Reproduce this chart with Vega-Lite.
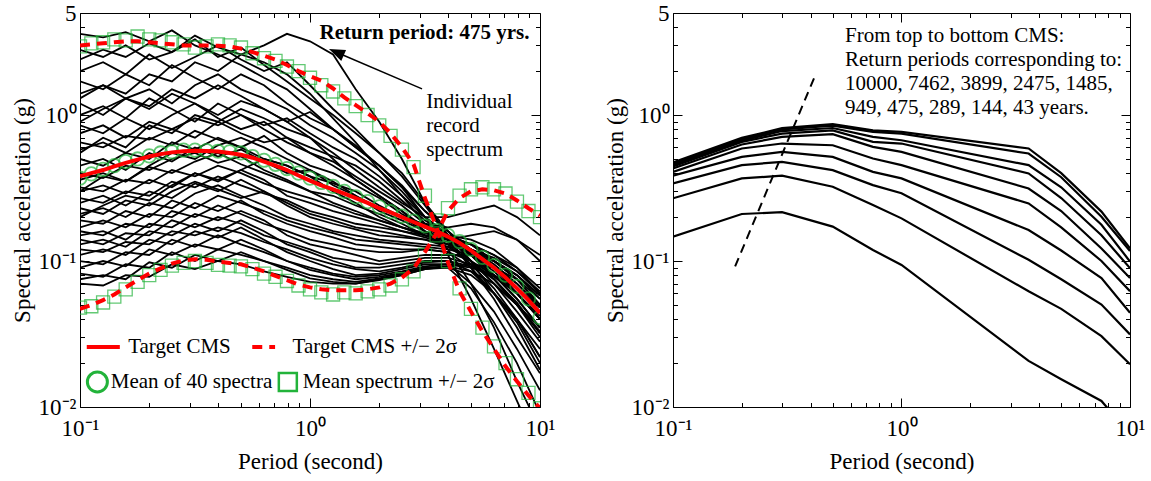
{
"$schema":"https://vega.github.io/schema/vega-lite/v6.json",
"background":"white",
"padding":{"left":10,"top":1,"right":0,"bottom":0},
"spacing":47,
"config":{"font":"Liberation Serif","view":{"stroke":"black","strokeWidth":1},
"axis":{"labelFont":"Liberation Serif","titleFont":"Liberation Serif","labelColor":"black","titleColor":"black","tickColor":"black","domain":false,"grid":false,"labelFontSize":23,"titleFontSize":23,"titleFontWeight":"normal","labelFlush":false,"labelOverlap":false,"tickWidth":1}},
"datasets":{
"cms":[
{"T":0.1,"cms":0.38,"up":3.0,"lo":0.047,"mean":0.37,"mup":2.95,"mlo":0.048},
{"T":0.112,"cms":0.40,"up":3.05,"lo":0.05,"mean":0.395,"mup":3.1,"mlo":0.049},
{"T":0.126,"cms":0.42,"up":3.1,"lo":0.054,"mean":0.425,"mup":3.15,"mlo":0.052},
{"T":0.141,"cms":0.445,"up":3.15,"lo":0.059,"mean":0.45,"mup":3.3,"mlo":0.057},
{"T":0.158,"cms":0.47,"up":3.2,"lo":0.066,"mean":0.48,"mup":3.25,"mlo":0.064},
{"T":0.178,"cms":0.495,"up":3.2,"lo":0.074,"mean":0.50,"mup":3.45,"mlo":0.072},
{"T":0.2,"cms":0.52,"up":3.15,"lo":0.082,"mean":0.525,"mup":3.3,"mlo":0.08},
{"T":0.224,"cms":0.54,"up":3.1,"lo":0.089,"mean":0.55,"mup":3.25,"mlo":0.087},
{"T":0.251,"cms":0.555,"up":3.05,"lo":0.096,"mean":0.56,"mup":3.15,"mlo":0.093},
{"T":0.282,"cms":0.565,"up":3.0,"lo":0.101,"mean":0.575,"mup":3.05,"mlo":0.097},
{"T":0.316,"cms":0.57,"up":3.0,"lo":0.103,"mean":0.575,"mup":2.9,"mlo":0.1},
{"T":0.355,"cms":0.568,"up":3.0,"lo":0.102,"mean":0.57,"mup":2.95,"mlo":0.097},
{"T":0.398,"cms":0.562,"up":2.98,"lo":0.099,"mean":0.565,"mup":3.05,"mlo":0.094},
{"T":0.447,"cms":0.55,"up":2.95,"lo":0.097,"mean":0.56,"mup":3.0,"mlo":0.093},
{"T":0.501,"cms":0.535,"up":2.85,"lo":0.095,"mean":0.55,"mup":2.9,"mlo":0.092},
{"T":0.562,"cms":0.51,"up":2.7,"lo":0.09,"mean":0.52,"mup":2.65,"mlo":0.088},
{"T":0.631,"cms":0.48,"up":2.55,"lo":0.085,"mean":0.49,"mup":2.45,"mlo":0.082},
{"T":0.708,"cms":0.45,"up":2.4,"lo":0.079,"mean":0.46,"mup":2.35,"mlo":0.078},
{"T":0.794,"cms":0.42,"up":2.2,"lo":0.074,"mean":0.43,"mup":2.15,"mlo":0.073},
{"T":0.891,"cms":0.385,"up":2.0,"lo":0.069,"mean":0.40,"mup":2.0,"mlo":0.068},
{"T":1,"cms":0.355,"up":1.85,"lo":0.066,"mean":0.37,"mup":1.8,"mlo":0.064},
{"T":1.12,"cms":0.33,"up":1.72,"lo":0.064,"mean":0.345,"mup":1.6,"mlo":0.061},
{"T":1.26,"cms":0.31,"up":1.52,"lo":0.063,"mean":0.325,"mup":1.45,"mlo":0.059},
{"T":1.41,"cms":0.29,"up":1.32,"lo":0.063,"mean":0.30,"mup":1.3,"mlo":0.061},
{"T":1.58,"cms":0.27,"up":1.17,"lo":0.063,"mean":0.275,"mup":1.15,"mlo":0.06},
{"T":1.78,"cms":0.25,"up":1.03,"lo":0.064,"mean":0.255,"mup":1.0,"mlo":0.062},
{"T":2,"cms":0.23,"up":0.9,"lo":0.066,"mean":0.235,"mup":0.85,"mlo":0.064},
{"T":2.24,"cms":0.215,"up":0.75,"lo":0.07,"mean":0.218,"mup":0.72,"mlo":0.068},
{"T":2.51,"cms":0.2,"up":0.6,"lo":0.077,"mean":0.203,"mup":0.58,"mlo":0.075},
{"T":2.82,"cms":0.185,"up":0.46,"lo":0.089,"mean":0.188,"mup":0.44,"mlo":0.085},
{"T":3.16,"cms":0.172,"up":0.27,"lo":0.115,"mean":0.174,"mup":0.28,"mlo":0.11},
{"T":3.55,"cms":0.16,"up":0.17,"lo":0.155,"mean":0.162,"mup":0.19,"mlo":0.15},
{"T":3.98,"cms":0.147,"up":0.098,"lo":0.22,"mean":0.15,"mup":0.1,"mlo":0.23},
{"T":4.47,"cms":0.133,"up":0.062,"lo":0.27,"mean":0.136,"mup":0.065,"mlo":0.28},
{"T":5.01,"cms":0.118,"up":0.045,"lo":0.3,"mean":0.12,"mup":0.047,"mlo":0.31},
{"T":5.62,"cms":0.103,"up":0.033,"lo":0.31,"mean":0.106,"mup":0.035,"mlo":0.32},
{"T":6.31,"cms":0.09,"up":0.025,"lo":0.305,"mean":0.093,"mup":0.026,"mlo":0.31},
{"T":7.08,"cms":0.077,"up":0.019,"lo":0.29,"mean":0.08,"mup":0.02,"mlo":0.29},
{"T":7.94,"cms":0.065,"up":0.015,"lo":0.26,"mean":0.067,"mup":0.0155,"mlo":0.255},
{"T":8.91,"cms":0.054,"up":0.012,"lo":0.23,"mean":0.055,"mup":0.0125,"mlo":0.22},
{"T":10,"cms":0.044,"up":0.0098,"lo":0.205,"mean":0.041,"mup":0.0098,"mlo":0.2}
],
"rec":[
{"r":1,"T":0.1,"v":3.6},{"r":1,"T":0.126,"v":3.4},{"r":1,"T":0.158,"v":3.7},{"r":1,"T":0.2,"v":3.2},{"r":1,"T":0.251,"v":3.8},{"r":1,"T":0.316,"v":3.0},{"r":1,"T":0.398,"v":2.6},{"r":1,"T":0.501,"v":2.2},{"r":1,"T":0.631,"v":1.8},{"r":1,"T":0.794,"v":1.5},{"r":1,"T":1,"v":1.1},{"r":1,"T":1.26,"v":0.8},{"r":1,"T":1.58,"v":0.6},{"r":1,"T":2,"v":0.45},{"r":1,"T":2.51,"v":0.32},{"r":1,"T":3.16,"v":0.2},{"r":1,"T":3.98,"v":0.14},{"r":1,"T":5.01,"v":0.09},{"r":1,"T":6.31,"v":0.055},{"r":1,"T":7.94,"v":0.03},{"r":1,"T":10,"v":0.017},
{"r":2,"T":0.1,"v":1.3},{"r":2,"T":0.126,"v":1.6},{"r":2,"T":0.158,"v":1.4},{"r":2,"T":0.2,"v":1.9},{"r":2,"T":0.251,"v":1.7},{"r":2,"T":0.316,"v":2.3},{"r":2,"T":0.398,"v":2.0},{"r":2,"T":0.501,"v":2.6},{"r":2,"T":0.631,"v":3.0},{"r":2,"T":0.794,"v":3.6},{"r":2,"T":1,"v":3.2},{"r":2,"T":1.26,"v":2.6},{"r":2,"T":1.58,"v":1.5},{"r":2,"T":2,"v":0.9},{"r":2,"T":2.51,"v":0.5},{"r":2,"T":3.16,"v":0.25},{"r":2,"T":3.98,"v":0.15},{"r":2,"T":5.01,"v":0.1},{"r":2,"T":6.31,"v":0.07},{"r":2,"T":7.94,"v":0.05},{"r":2,"T":10,"v":0.035},
{"r":3,"T":0.1,"v":2.8},{"r":3,"T":0.126,"v":2.5},{"r":3,"T":0.158,"v":3.0},{"r":3,"T":0.2,"v":2.4},{"r":3,"T":0.251,"v":2.7},{"r":3,"T":0.316,"v":3.3},{"r":3,"T":0.398,"v":2.5},{"r":3,"T":0.501,"v":2.9},{"r":3,"T":0.631,"v":2.2},{"r":3,"T":0.794,"v":1.7},{"r":3,"T":1,"v":1.3},{"r":3,"T":1.26,"v":1.0},{"r":3,"T":1.58,"v":0.75},{"r":3,"T":2,"v":0.55},{"r":3,"T":2.51,"v":0.38},{"r":3,"T":3.16,"v":0.24},{"r":3,"T":3.98,"v":0.15},{"r":3,"T":5.01,"v":0.1},{"r":3,"T":6.31,"v":0.06},{"r":3,"T":7.94,"v":0.04},{"r":3,"T":10,"v":0.025},
{"r":4,"T":0.1,"v":2.0},{"r":4,"T":0.126,"v":2.3},{"r":4,"T":0.158,"v":1.9},{"r":4,"T":0.2,"v":2.6},{"r":4,"T":0.251,"v":2.1},{"r":4,"T":0.316,"v":2.5},{"r":4,"T":0.398,"v":3.0},{"r":4,"T":0.501,"v":2.4},{"r":4,"T":0.631,"v":2.0},{"r":4,"T":0.794,"v":2.3},{"r":4,"T":1,"v":1.6},{"r":4,"T":1.26,"v":1.1},{"r":4,"T":1.58,"v":0.8},{"r":4,"T":2,"v":0.55},{"r":4,"T":2.51,"v":0.4},{"r":4,"T":3.16,"v":0.25},{"r":4,"T":3.98,"v":0.16},{"r":4,"T":5.01,"v":0.11},{"r":4,"T":6.31,"v":0.075},{"r":4,"T":7.94,"v":0.05},{"r":4,"T":10,"v":0.032},
{"r":5,"T":0.1,"v":1.7},{"r":5,"T":0.126,"v":1.5},{"r":5,"T":0.158,"v":1.9},{"r":5,"T":0.2,"v":1.6},{"r":5,"T":0.251,"v":2.2},{"r":5,"T":0.316,"v":1.8},{"r":5,"T":0.398,"v":1.5},{"r":5,"T":0.501,"v":1.9},{"r":5,"T":0.631,"v":1.6},{"r":5,"T":0.794,"v":1.2},{"r":5,"T":1,"v":0.95},{"r":5,"T":1.26,"v":0.8},{"r":5,"T":1.58,"v":0.6},{"r":5,"T":2,"v":0.45},{"r":5,"T":2.51,"v":0.32},{"r":5,"T":3.16,"v":0.22},{"r":5,"T":3.98,"v":0.16},{"r":5,"T":5.01,"v":0.12},{"r":5,"T":6.31,"v":0.09},{"r":5,"T":7.94,"v":0.065},{"r":5,"T":10,"v":0.045},
{"r":6,"T":0.1,"v":1.4},{"r":6,"T":0.126,"v":1.6},{"r":6,"T":0.158,"v":1.3},{"r":6,"T":0.2,"v":1.5},{"r":6,"T":0.251,"v":1.2},{"r":6,"T":0.316,"v":1.6},{"r":6,"T":0.398,"v":1.9},{"r":6,"T":0.501,"v":1.5},{"r":6,"T":0.631,"v":1.3},{"r":6,"T":0.794,"v":1.1},{"r":6,"T":1,"v":0.85},{"r":6,"T":1.26,"v":0.7},{"r":6,"T":1.58,"v":0.55},{"r":6,"T":2,"v":0.42},{"r":6,"T":2.51,"v":0.3},{"r":6,"T":3.16,"v":0.2},{"r":6,"T":3.98,"v":0.15},{"r":6,"T":5.01,"v":0.13},{"r":6,"T":6.31,"v":0.1},{"r":6,"T":7.94,"v":0.075},{"r":6,"T":10,"v":0.05},
{"r":7,"T":0.1,"v":1.2},{"r":7,"T":0.126,"v":1.0},{"r":7,"T":0.158,"v":1.3},{"r":7,"T":0.2,"v":1.1},{"r":7,"T":0.251,"v":1.4},{"r":7,"T":0.316,"v":1.2},{"r":7,"T":0.398,"v":1.0},{"r":7,"T":0.501,"v":1.25},{"r":7,"T":0.631,"v":1.1},{"r":7,"T":0.794,"v":0.9},{"r":7,"T":1,"v":1.05},{"r":7,"T":1.26,"v":0.8},{"r":7,"T":1.58,"v":0.62},{"r":7,"T":2,"v":0.45},{"r":7,"T":2.51,"v":0.33},{"r":7,"T":3.16,"v":0.22},{"r":7,"T":3.98,"v":0.16},{"r":7,"T":5.01,"v":0.11},{"r":7,"T":6.31,"v":0.08},{"r":7,"T":7.94,"v":0.055},{"r":7,"T":10,"v":0.035},
{"r":8,"T":0.1,"v":1.0},{"r":8,"T":0.126,"v":1.15},{"r":8,"T":0.158,"v":0.95},{"r":8,"T":0.2,"v":1.3},{"r":8,"T":0.251,"v":1.1},{"r":8,"T":0.316,"v":0.9},{"r":8,"T":0.398,"v":1.2},{"r":8,"T":0.501,"v":1.0},{"r":8,"T":0.631,"v":0.85},{"r":8,"T":0.794,"v":0.95},{"r":8,"T":1,"v":0.75},{"r":8,"T":1.26,"v":0.6},{"r":8,"T":1.58,"v":0.5},{"r":8,"T":2,"v":0.38},{"r":8,"T":2.51,"v":0.28},{"r":8,"T":3.16,"v":0.2},{"r":8,"T":3.98,"v":0.15},{"r":8,"T":5.01,"v":0.12},{"r":8,"T":6.31,"v":0.09},{"r":8,"T":7.94,"v":0.06},{"r":8,"T":10,"v":0.04},
{"r":9,"T":0.1,"v":0.85},{"r":9,"T":0.126,"v":0.75},{"r":9,"T":0.158,"v":0.95},{"r":9,"T":0.2,"v":0.8},{"r":9,"T":0.251,"v":1.0},{"r":9,"T":0.316,"v":1.2},{"r":9,"T":0.398,"v":0.95},{"r":9,"T":0.501,"v":0.8},{"r":9,"T":0.631,"v":0.9},{"r":9,"T":0.794,"v":0.7},{"r":9,"T":1,"v":0.6},{"r":9,"T":1.26,"v":0.52},{"r":9,"T":1.58,"v":0.45},{"r":9,"T":2,"v":0.35},{"r":9,"T":2.51,"v":0.26},{"r":9,"T":3.16,"v":0.19},{"r":9,"T":3.98,"v":0.15},{"r":9,"T":5.01,"v":0.14},{"r":9,"T":6.31,"v":0.12},{"r":9,"T":7.94,"v":0.09},{"r":9,"T":10,"v":0.06},
{"r":10,"T":0.1,"v":0.75},{"r":10,"T":0.126,"v":0.85},{"r":10,"T":0.158,"v":0.7},{"r":10,"T":0.2,"v":0.9},{"r":10,"T":0.251,"v":0.8},{"r":10,"T":0.316,"v":0.95},{"r":10,"T":0.398,"v":0.85},{"r":10,"T":0.501,"v":1.0},{"r":10,"T":0.631,"v":0.8},{"r":10,"T":0.794,"v":0.65},{"r":10,"T":1,"v":0.55},{"r":10,"T":1.26,"v":0.48},{"r":10,"T":1.58,"v":0.38},{"r":10,"T":2,"v":0.3},{"r":10,"T":2.51,"v":0.24},{"r":10,"T":3.16,"v":0.18},{"r":10,"T":3.98,"v":0.15},{"r":10,"T":5.01,"v":0.13},{"r":10,"T":6.31,"v":0.1},{"r":10,"T":7.94,"v":0.08},{"r":10,"T":10,"v":0.055},
{"r":11,"T":0.1,"v":0.65},{"r":11,"T":0.126,"v":0.6},{"r":11,"T":0.158,"v":0.72},{"r":11,"T":0.2,"v":0.68},{"r":11,"T":0.251,"v":0.8},{"r":11,"T":0.316,"v":0.7},{"r":11,"T":0.398,"v":0.9},{"r":11,"T":0.501,"v":0.75},{"r":11,"T":0.631,"v":0.65},{"r":11,"T":0.794,"v":0.7},{"r":11,"T":1,"v":0.55},{"r":11,"T":1.26,"v":0.45},{"r":11,"T":1.58,"v":0.36},{"r":11,"T":2,"v":0.28},{"r":11,"T":2.51,"v":0.22},{"r":11,"T":3.16,"v":0.17},{"r":11,"T":3.98,"v":0.14},{"r":11,"T":5.01,"v":0.11},{"r":11,"T":6.31,"v":0.085},{"r":11,"T":7.94,"v":0.06},{"r":11,"T":10,"v":0.04},
{"r":12,"T":0.1,"v":0.58},{"r":12,"T":0.126,"v":0.65},{"r":12,"T":0.158,"v":0.55},{"r":12,"T":0.2,"v":0.7},{"r":12,"T":0.251,"v":0.62},{"r":12,"T":0.316,"v":0.78},{"r":12,"T":0.398,"v":0.68},{"r":12,"T":0.501,"v":0.6},{"r":12,"T":0.631,"v":0.72},{"r":12,"T":0.794,"v":0.55},{"r":12,"T":1,"v":0.45},{"r":12,"T":1.26,"v":0.4},{"r":12,"T":1.58,"v":0.33},{"r":12,"T":2,"v":0.27},{"r":12,"T":2.51,"v":0.21},{"r":12,"T":3.16,"v":0.17},{"r":12,"T":3.98,"v":0.145},{"r":12,"T":5.01,"v":0.13},{"r":12,"T":6.31,"v":0.11},{"r":12,"T":7.94,"v":0.09},{"r":12,"T":10,"v":0.065},
{"r":13,"T":0.1,"v":0.5},{"r":13,"T":0.126,"v":0.45},{"r":13,"T":0.158,"v":0.55},{"r":13,"T":0.2,"v":0.5},{"r":13,"T":0.251,"v":0.65},{"r":13,"T":0.316,"v":0.58},{"r":13,"T":0.398,"v":0.7},{"r":13,"T":0.501,"v":0.6},{"r":13,"T":0.631,"v":0.5},{"r":13,"T":0.794,"v":0.45},{"r":13,"T":1,"v":0.38},{"r":13,"T":1.26,"v":0.34},{"r":13,"T":1.58,"v":0.3},{"r":13,"T":2,"v":0.24},{"r":13,"T":2.51,"v":0.2},{"r":13,"T":3.16,"v":0.16},{"r":13,"T":3.98,"v":0.14},{"r":13,"T":5.01,"v":0.12},{"r":13,"T":6.31,"v":0.095},{"r":13,"T":7.94,"v":0.07},{"r":13,"T":10,"v":0.05},
{"r":14,"T":0.1,"v":0.45},{"r":14,"T":0.126,"v":0.5},{"r":14,"T":0.158,"v":0.42},{"r":14,"T":0.2,"v":0.55},{"r":14,"T":0.251,"v":0.48},{"r":14,"T":0.316,"v":0.6},{"r":14,"T":0.398,"v":0.52},{"r":14,"T":0.501,"v":0.58},{"r":14,"T":0.631,"v":0.48},{"r":14,"T":0.794,"v":0.4},{"r":14,"T":1,"v":0.42},{"r":14,"T":1.26,"v":0.33},{"r":14,"T":1.58,"v":0.28},{"r":14,"T":2,"v":0.22},{"r":14,"T":2.51,"v":0.19},{"r":14,"T":3.16,"v":0.16},{"r":14,"T":3.98,"v":0.14},{"r":14,"T":5.01,"v":0.11},{"r":14,"T":6.31,"v":0.08},{"r":14,"T":7.94,"v":0.055},{"r":14,"T":10,"v":0.035},
{"r":15,"T":0.1,"v":0.4},{"r":15,"T":0.126,"v":0.37},{"r":15,"T":0.158,"v":0.45},{"r":15,"T":0.2,"v":0.42},{"r":15,"T":0.251,"v":0.5},{"r":15,"T":0.316,"v":0.55},{"r":15,"T":0.398,"v":0.47},{"r":15,"T":0.501,"v":0.52},{"r":15,"T":0.631,"v":0.42},{"r":15,"T":0.794,"v":0.36},{"r":15,"T":1,"v":0.3},{"r":15,"T":1.26,"v":0.28},{"r":15,"T":1.58,"v":0.24},{"r":15,"T":2,"v":0.21},{"r":15,"T":2.51,"v":0.18},{"r":15,"T":3.16,"v":0.15},{"r":15,"T":3.98,"v":0.14},{"r":15,"T":5.01,"v":0.12},{"r":15,"T":6.31,"v":0.1},{"r":15,"T":7.94,"v":0.075},{"r":15,"T":10,"v":0.05},
{"r":16,"T":0.1,"v":0.36},{"r":16,"T":0.126,"v":0.4},{"r":16,"T":0.158,"v":0.35},{"r":16,"T":0.2,"v":0.44},{"r":16,"T":0.251,"v":0.4},{"r":16,"T":0.316,"v":0.48},{"r":16,"T":0.398,"v":0.55},{"r":16,"T":0.501,"v":0.46},{"r":16,"T":0.631,"v":0.4},{"r":16,"T":0.794,"v":0.35},{"r":16,"T":1,"v":0.3},{"r":16,"T":1.26,"v":0.25},{"r":16,"T":1.58,"v":0.22},{"r":16,"T":2,"v":0.19},{"r":16,"T":2.51,"v":0.17},{"r":16,"T":3.16,"v":0.15},{"r":16,"T":3.98,"v":0.135},{"r":16,"T":5.01,"v":0.1},{"r":16,"T":6.31,"v":0.07},{"r":16,"T":7.94,"v":0.045},{"r":16,"T":10,"v":0.028},
{"r":17,"T":0.1,"v":0.32},{"r":17,"T":0.126,"v":0.3},{"r":17,"T":0.158,"v":0.36},{"r":17,"T":0.2,"v":0.34},{"r":17,"T":0.251,"v":0.42},{"r":17,"T":0.316,"v":0.38},{"r":17,"T":0.398,"v":0.45},{"r":17,"T":0.501,"v":0.4},{"r":17,"T":0.631,"v":0.34},{"r":17,"T":0.794,"v":0.3},{"r":17,"T":1,"v":0.27},{"r":17,"T":1.26,"v":0.24},{"r":17,"T":1.58,"v":0.21},{"r":17,"T":2,"v":0.19},{"r":17,"T":2.51,"v":0.17},{"r":17,"T":3.16,"v":0.155},{"r":17,"T":3.98,"v":0.14},{"r":17,"T":5.01,"v":0.13},{"r":17,"T":6.31,"v":0.11},{"r":17,"T":7.94,"v":0.085},{"r":17,"T":10,"v":0.06},
{"r":18,"T":0.1,"v":0.3},{"r":18,"T":0.126,"v":0.33},{"r":18,"T":0.158,"v":0.29},{"r":18,"T":0.2,"v":0.36},{"r":18,"T":0.251,"v":0.32},{"r":18,"T":0.316,"v":0.4},{"r":18,"T":0.398,"v":0.35},{"r":18,"T":0.501,"v":0.42},{"r":18,"T":0.631,"v":0.36},{"r":18,"T":0.794,"v":0.28},{"r":18,"T":1,"v":0.25},{"r":18,"T":1.26,"v":0.22},{"r":18,"T":1.58,"v":0.2},{"r":18,"T":2,"v":0.18},{"r":18,"T":2.51,"v":0.16},{"r":18,"T":3.16,"v":0.15},{"r":18,"T":3.98,"v":0.13},{"r":18,"T":5.01,"v":0.095},{"r":18,"T":6.31,"v":0.065},{"r":18,"T":7.94,"v":0.04},{"r":18,"T":10,"v":0.022},
{"r":19,"T":0.1,"v":0.27},{"r":19,"T":0.126,"v":0.25},{"r":19,"T":0.158,"v":0.3},{"r":19,"T":0.2,"v":0.28},{"r":19,"T":0.251,"v":0.35},{"r":19,"T":0.316,"v":0.32},{"r":19,"T":0.398,"v":0.38},{"r":19,"T":0.501,"v":0.33},{"r":19,"T":0.631,"v":0.29},{"r":19,"T":0.794,"v":0.26},{"r":19,"T":1,"v":0.22},{"r":19,"T":1.26,"v":0.2},{"r":19,"T":1.58,"v":0.18},{"r":19,"T":2,"v":0.17},{"r":19,"T":2.51,"v":0.16},{"r":19,"T":3.16,"v":0.145},{"r":19,"T":3.98,"v":0.13},{"r":19,"T":5.01,"v":0.12},{"r":19,"T":6.31,"v":0.1},{"r":19,"T":7.94,"v":0.08},{"r":19,"T":10,"v":0.058},
{"r":20,"T":0.1,"v":0.25},{"r":20,"T":0.126,"v":0.28},{"r":20,"T":0.158,"v":0.24},{"r":20,"T":0.2,"v":0.3},{"r":20,"T":0.251,"v":0.27},{"r":20,"T":0.316,"v":0.34},{"r":20,"T":0.398,"v":0.3},{"r":20,"T":0.501,"v":0.36},{"r":20,"T":0.631,"v":0.3},{"r":20,"T":0.794,"v":0.25},{"r":20,"T":1,"v":0.21},{"r":20,"T":1.26,"v":0.19},{"r":20,"T":1.58,"v":0.17},{"r":20,"T":2,"v":0.16},{"r":20,"T":2.51,"v":0.15},{"r":20,"T":3.16,"v":0.14},{"r":20,"T":3.98,"v":0.13},{"r":20,"T":5.01,"v":0.115},{"r":20,"T":6.31,"v":0.09},{"r":20,"T":7.94,"v":0.065},{"r":20,"T":10,"v":0.045},
{"r":21,"T":0.1,"v":0.23},{"r":21,"T":0.126,"v":0.21},{"r":21,"T":0.158,"v":0.26},{"r":21,"T":0.2,"v":0.24},{"r":21,"T":0.251,"v":0.3},{"r":21,"T":0.316,"v":0.35},{"r":21,"T":0.398,"v":0.31},{"r":21,"T":0.501,"v":0.27},{"r":21,"T":0.631,"v":0.3},{"r":21,"T":0.794,"v":0.24},{"r":21,"T":1,"v":0.2},{"r":21,"T":1.26,"v":0.18},{"r":21,"T":1.58,"v":0.165},{"r":21,"T":2,"v":0.15},{"r":21,"T":2.51,"v":0.145},{"r":21,"T":3.16,"v":0.14},{"r":21,"T":3.98,"v":0.125},{"r":21,"T":5.01,"v":0.1},{"r":21,"T":6.31,"v":0.075},{"r":21,"T":7.94,"v":0.05},{"r":21,"T":10,"v":0.03},
{"r":22,"T":0.1,"v":0.21},{"r":22,"T":0.126,"v":0.23},{"r":22,"T":0.158,"v":0.2},{"r":22,"T":0.2,"v":0.25},{"r":22,"T":0.251,"v":0.23},{"r":22,"T":0.316,"v":0.29},{"r":22,"T":0.398,"v":0.33},{"r":22,"T":0.501,"v":0.28},{"r":22,"T":0.631,"v":0.24},{"r":22,"T":0.794,"v":0.2},{"r":22,"T":1,"v":0.18},{"r":22,"T":1.26,"v":0.16},{"r":22,"T":1.58,"v":0.15},{"r":22,"T":2,"v":0.14},{"r":22,"T":2.51,"v":0.135},{"r":22,"T":3.16,"v":0.13},{"r":22,"T":3.98,"v":0.125},{"r":22,"T":5.01,"v":0.12},{"r":22,"T":6.31,"v":0.105},{"r":22,"T":7.94,"v":0.085},{"r":22,"T":10,"v":0.062},
{"r":23,"T":0.1,"v":0.19},{"r":23,"T":0.126,"v":0.18},{"r":23,"T":0.158,"v":0.22},{"r":23,"T":0.2,"v":0.2},{"r":23,"T":0.251,"v":0.26},{"r":23,"T":0.316,"v":0.23},{"r":23,"T":0.398,"v":0.28},{"r":23,"T":0.501,"v":0.25},{"r":23,"T":0.631,"v":0.22},{"r":23,"T":0.794,"v":0.19},{"r":23,"T":1,"v":0.17},{"r":23,"T":1.26,"v":0.155},{"r":23,"T":1.58,"v":0.14},{"r":23,"T":2,"v":0.135},{"r":23,"T":2.51,"v":0.13},{"r":23,"T":3.16,"v":0.125},{"r":23,"T":3.98,"v":0.12},{"r":23,"T":5.01,"v":0.11},{"r":23,"T":6.31,"v":0.09},{"r":23,"T":7.94,"v":0.07},{"r":23,"T":10,"v":0.048},
{"r":24,"T":0.1,"v":0.17},{"r":24,"T":0.126,"v":0.19},{"r":24,"T":0.158,"v":0.17},{"r":24,"T":0.2,"v":0.21},{"r":24,"T":0.251,"v":0.2},{"r":24,"T":0.316,"v":0.25},{"r":24,"T":0.398,"v":0.22},{"r":24,"T":0.501,"v":0.26},{"r":24,"T":0.631,"v":0.21},{"r":24,"T":0.794,"v":0.18},{"r":24,"T":1,"v":0.16},{"r":24,"T":1.26,"v":0.145},{"r":24,"T":1.58,"v":0.13},{"r":24,"T":2,"v":0.125},{"r":24,"T":2.51,"v":0.12},{"r":24,"T":3.16,"v":0.12},{"r":24,"T":3.98,"v":0.115},{"r":24,"T":5.01,"v":0.09},{"r":24,"T":6.31,"v":0.06},{"r":24,"T":7.94,"v":0.035},{"r":24,"T":10,"v":0.018},
{"r":25,"T":0.1,"v":0.16},{"r":25,"T":0.126,"v":0.15},{"r":25,"T":0.158,"v":0.18},{"r":25,"T":0.2,"v":0.17},{"r":25,"T":0.251,"v":0.22},{"r":25,"T":0.316,"v":0.2},{"r":25,"T":0.398,"v":0.24},{"r":25,"T":0.501,"v":0.21},{"r":25,"T":0.631,"v":0.18},{"r":25,"T":0.794,"v":0.16},{"r":25,"T":1,"v":0.14},{"r":25,"T":1.26,"v":0.13},{"r":25,"T":1.58,"v":0.12},{"r":25,"T":2,"v":0.115},{"r":25,"T":2.51,"v":0.115},{"r":25,"T":3.16,"v":0.12},{"r":25,"T":3.98,"v":0.115},{"r":25,"T":5.01,"v":0.1},{"r":25,"T":6.31,"v":0.08},{"r":25,"T":7.94,"v":0.06},{"r":25,"T":10,"v":0.04},
{"r":26,"T":0.1,"v":0.15},{"r":26,"T":0.126,"v":0.16},{"r":26,"T":0.158,"v":0.14},{"r":26,"T":0.2,"v":0.18},{"r":26,"T":0.251,"v":0.17},{"r":26,"T":0.316,"v":0.21},{"r":26,"T":0.398,"v":0.19},{"r":26,"T":0.501,"v":0.22},{"r":26,"T":0.631,"v":0.19},{"r":26,"T":0.794,"v":0.15},{"r":26,"T":1,"v":0.13},{"r":26,"T":1.26,"v":0.12},{"r":26,"T":1.58,"v":0.11},{"r":26,"T":2,"v":0.1},{"r":26,"T":2.51,"v":0.105},{"r":26,"T":3.16,"v":0.11},{"r":26,"T":3.98,"v":0.11},{"r":26,"T":5.01,"v":0.11},{"r":26,"T":6.31,"v":0.1},{"r":26,"T":7.94,"v":0.08},{"r":26,"T":10,"v":0.058},
{"r":27,"T":0.1,"v":0.14},{"r":27,"T":0.126,"v":0.13},{"r":27,"T":0.158,"v":0.155},{"r":27,"T":0.2,"v":0.15},{"r":27,"T":0.251,"v":0.19},{"r":27,"T":0.316,"v":0.17},{"r":27,"T":0.398,"v":0.2},{"r":27,"T":0.501,"v":0.18},{"r":27,"T":0.631,"v":0.15},{"r":27,"T":0.794,"v":0.135},{"r":27,"T":1,"v":0.12},{"r":27,"T":1.26,"v":0.105},{"r":27,"T":1.58,"v":0.1},{"r":27,"T":2,"v":0.095},{"r":27,"T":2.51,"v":0.1},{"r":27,"T":3.16,"v":0.105},{"r":27,"T":3.98,"v":0.105},{"r":27,"T":5.01,"v":0.095},{"r":27,"T":6.31,"v":0.075},{"r":27,"T":7.94,"v":0.052},{"r":27,"T":10,"v":0.032},
{"r":28,"T":0.1,"v":0.13},{"r":28,"T":0.126,"v":0.14},{"r":28,"T":0.158,"v":0.125},{"r":28,"T":0.2,"v":0.16},{"r":28,"T":0.251,"v":0.15},{"r":28,"T":0.316,"v":0.18},{"r":28,"T":0.398,"v":0.16},{"r":28,"T":0.501,"v":0.19},{"r":28,"T":0.631,"v":0.16},{"r":28,"T":0.794,"v":0.13},{"r":28,"T":1,"v":0.115},{"r":28,"T":1.26,"v":0.1},{"r":28,"T":1.58,"v":0.09},{"r":28,"T":2,"v":0.09},{"r":28,"T":2.51,"v":0.095},{"r":28,"T":3.16,"v":0.1},{"r":28,"T":3.98,"v":0.1},{"r":28,"T":5.01,"v":0.085},{"r":28,"T":6.31,"v":0.06},{"r":28,"T":7.94,"v":0.038},{"r":28,"T":10,"v":0.02},
{"r":29,"T":0.1,"v":0.12},{"r":29,"T":0.126,"v":0.115},{"r":29,"T":0.158,"v":0.135},{"r":29,"T":0.2,"v":0.13},{"r":29,"T":0.251,"v":0.16},{"r":29,"T":0.316,"v":0.15},{"r":29,"T":0.398,"v":0.17},{"r":29,"T":0.501,"v":0.155},{"r":29,"T":0.631,"v":0.135},{"r":29,"T":0.794,"v":0.12},{"r":29,"T":1,"v":0.105},{"r":29,"T":1.26,"v":0.095},{"r":29,"T":1.58,"v":0.088},{"r":29,"T":2,"v":0.085},{"r":29,"T":2.51,"v":0.09},{"r":29,"T":3.16,"v":0.098},{"r":29,"T":3.98,"v":0.1},{"r":29,"T":5.01,"v":0.092},{"r":29,"T":6.31,"v":0.078},{"r":29,"T":7.94,"v":0.06},{"r":29,"T":10,"v":0.042},
{"r":30,"T":0.1,"v":0.11},{"r":30,"T":0.126,"v":0.12},{"r":30,"T":0.158,"v":0.11},{"r":30,"T":0.2,"v":0.14},{"r":30,"T":0.251,"v":0.13},{"r":30,"T":0.316,"v":0.16},{"r":30,"T":0.398,"v":0.145},{"r":30,"T":0.501,"v":0.17},{"r":30,"T":0.631,"v":0.14},{"r":30,"T":0.794,"v":0.115},{"r":30,"T":1,"v":0.1},{"r":30,"T":1.26,"v":0.088},{"r":30,"T":1.58,"v":0.08},{"r":30,"T":2,"v":0.082},{"r":30,"T":2.51,"v":0.088},{"r":30,"T":3.16,"v":0.095},{"r":30,"T":3.98,"v":0.095},{"r":30,"T":5.01,"v":0.07},{"r":30,"T":6.31,"v":0.045},{"r":30,"T":7.94,"v":0.025},{"r":30,"T":10,"v":0.013},
{"r":31,"T":0.1,"v":0.1},{"r":31,"T":0.126,"v":0.095},{"r":31,"T":0.158,"v":0.115},{"r":31,"T":0.2,"v":0.11},{"r":31,"T":0.251,"v":0.14},{"r":31,"T":0.316,"v":0.125},{"r":31,"T":0.398,"v":0.15},{"r":31,"T":0.501,"v":0.13},{"r":31,"T":0.631,"v":0.115},{"r":31,"T":0.794,"v":0.1},{"r":31,"T":1,"v":0.09},{"r":31,"T":1.26,"v":0.082},{"r":31,"T":1.58,"v":0.078},{"r":31,"T":2,"v":0.08},{"r":31,"T":2.51,"v":0.085},{"r":31,"T":3.16,"v":0.092},{"r":31,"T":3.98,"v":0.095},{"r":31,"T":5.01,"v":0.09},{"r":31,"T":6.31,"v":0.08},{"r":31,"T":7.94,"v":0.065},{"r":31,"T":10,"v":0.048},
{"r":32,"T":0.1,"v":0.09},{"r":32,"T":0.126,"v":0.1},{"r":32,"T":0.158,"v":0.092},{"r":32,"T":0.2,"v":0.12},{"r":32,"T":0.251,"v":0.11},{"r":32,"T":0.316,"v":0.13},{"r":32,"T":0.398,"v":0.12},{"r":32,"T":0.501,"v":0.14},{"r":32,"T":0.631,"v":0.12},{"r":32,"T":0.794,"v":0.1},{"r":32,"T":1,"v":0.087},{"r":32,"T":1.26,"v":0.08},{"r":32,"T":1.58,"v":0.075},{"r":32,"T":2,"v":0.078},{"r":32,"T":2.51,"v":0.083},{"r":32,"T":3.16,"v":0.09},{"r":32,"T":3.98,"v":0.092},{"r":32,"T":5.01,"v":0.085},{"r":32,"T":6.31,"v":0.07},{"r":32,"T":7.94,"v":0.05},{"r":32,"T":10,"v":0.033},
{"r":33,"T":0.1,"v":0.082},{"r":33,"T":0.126,"v":0.078},{"r":33,"T":0.158,"v":0.095},{"r":33,"T":0.2,"v":0.09},{"r":33,"T":0.251,"v":0.115},{"r":33,"T":0.316,"v":0.1},{"r":33,"T":0.398,"v":0.12},{"r":33,"T":0.501,"v":0.11},{"r":33,"T":0.631,"v":0.1},{"r":33,"T":0.794,"v":0.09},{"r":33,"T":1,"v":0.08},{"r":33,"T":1.26,"v":0.075},{"r":33,"T":1.58,"v":0.072},{"r":33,"T":2,"v":0.076},{"r":33,"T":2.51,"v":0.082},{"r":33,"T":3.16,"v":0.09},{"r":33,"T":3.98,"v":0.09},{"r":33,"T":5.01,"v":0.065},{"r":33,"T":6.31,"v":0.038},{"r":33,"T":7.94,"v":0.02},{"r":33,"T":10,"v":0.009},
{"r":34,"T":0.1,"v":0.075},{"r":34,"T":0.126,"v":0.08},{"r":34,"T":0.158,"v":0.075},{"r":34,"T":0.2,"v":0.098},{"r":34,"T":0.251,"v":0.09},{"r":34,"T":0.316,"v":0.11},{"r":34,"T":0.398,"v":0.1},{"r":34,"T":0.501,"v":0.115},{"r":34,"T":0.631,"v":0.1},{"r":34,"T":0.794,"v":0.087},{"r":34,"T":1,"v":0.076},{"r":34,"T":1.26,"v":0.072},{"r":34,"T":1.58,"v":0.07},{"r":34,"T":2,"v":0.075},{"r":34,"T":2.51,"v":0.08},{"r":34,"T":3.16,"v":0.088},{"r":34,"T":3.98,"v":0.092},{"r":34,"T":5.01,"v":0.095},{"r":34,"T":6.31,"v":0.09},{"r":34,"T":7.94,"v":0.075},{"r":34,"T":10,"v":0.055},
{"r":35,"T":0.1,"v":0.07},{"r":35,"T":0.126,"v":0.068},{"r":35,"T":0.158,"v":0.08},{"r":35,"T":0.2,"v":0.078},{"r":35,"T":0.251,"v":0.095},{"r":35,"T":0.316,"v":0.088},{"r":35,"T":0.398,"v":0.1},{"r":35,"T":0.501,"v":0.095},{"r":35,"T":0.631,"v":0.085},{"r":35,"T":0.794,"v":0.078},{"r":35,"T":1,"v":0.072},{"r":35,"T":1.26,"v":0.07},{"r":35,"T":1.58,"v":0.07},{"r":35,"T":2,"v":0.074},{"r":35,"T":2.51,"v":0.08},{"r":35,"T":3.16,"v":0.088},{"r":35,"T":3.98,"v":0.09},{"r":35,"T":5.01,"v":0.08},{"r":35,"T":6.31,"v":0.06},{"r":35,"T":7.94,"v":0.04},{"r":35,"T":10,"v":0.022},
{"r":36,"T":0.1,"v":0.55},{"r":36,"T":0.126,"v":0.7},{"r":36,"T":0.158,"v":0.6},{"r":36,"T":0.2,"v":0.85},{"r":36,"T":0.251,"v":0.75},{"r":36,"T":0.316,"v":1.0},{"r":36,"T":0.398,"v":0.9},{"r":36,"T":0.501,"v":1.1},{"r":36,"T":0.631,"v":0.95},{"r":36,"T":0.794,"v":0.8},{"r":36,"T":1,"v":0.7},{"r":36,"T":1.26,"v":0.55},{"r":36,"T":1.58,"v":0.42},{"r":36,"T":2,"v":0.32},{"r":36,"T":2.51,"v":0.25},{"r":36,"T":3.16,"v":0.2},{"r":36,"T":3.98,"v":0.2},{"r":36,"T":5.01,"v":0.22},{"r":36,"T":6.31,"v":0.24},{"r":36,"T":7.94,"v":0.2},{"r":36,"T":10,"v":0.15},
{"r":37,"T":0.1,"v":0.3},{"r":37,"T":0.126,"v":0.38},{"r":37,"T":0.158,"v":0.35},{"r":37,"T":0.2,"v":0.45},{"r":37,"T":0.251,"v":0.55},{"r":37,"T":0.316,"v":0.5},{"r":37,"T":0.398,"v":0.62},{"r":37,"T":0.501,"v":0.7},{"r":37,"T":0.631,"v":0.6},{"r":37,"T":0.794,"v":0.5},{"r":37,"T":1,"v":0.42},{"r":37,"T":1.26,"v":0.35},{"r":37,"T":1.58,"v":0.28},{"r":37,"T":2,"v":0.23},{"r":37,"T":2.51,"v":0.2},{"r":37,"T":3.16,"v":0.18},{"r":37,"T":3.98,"v":0.17},{"r":37,"T":5.01,"v":0.18},{"r":37,"T":6.31,"v":0.17},{"r":37,"T":7.94,"v":0.14},{"r":37,"T":10,"v":0.1},
{"r":38,"T":0.1,"v":0.9},{"r":38,"T":0.126,"v":1.1},{"r":38,"T":0.158,"v":1.3},{"r":38,"T":0.2,"v":1.15},{"r":38,"T":0.251,"v":1.5},{"r":38,"T":0.316,"v":1.3},{"r":38,"T":0.398,"v":1.6},{"r":38,"T":0.501,"v":1.35},{"r":38,"T":0.631,"v":1.1},{"r":38,"T":0.794,"v":0.9},{"r":38,"T":1,"v":0.7},{"r":38,"T":1.26,"v":0.5},{"r":38,"T":1.58,"v":0.36},{"r":38,"T":2,"v":0.28},{"r":38,"T":2.51,"v":0.22},{"r":38,"T":3.16,"v":0.16},{"r":38,"T":3.98,"v":0.12},{"r":38,"T":5.01,"v":0.07},{"r":38,"T":6.31,"v":0.035},{"r":38,"T":7.94,"v":0.015},{"r":38,"T":10,"v":0.007},
{"r":39,"T":0.1,"v":2.4},{"r":39,"T":0.126,"v":2.8},{"r":39,"T":0.158,"v":2.5},{"r":39,"T":0.2,"v":3.1},{"r":39,"T":0.251,"v":2.7},{"r":39,"T":0.316,"v":3.5},{"r":39,"T":0.398,"v":2.9},{"r":39,"T":0.501,"v":2.6},{"r":39,"T":0.631,"v":2.3},{"r":39,"T":0.794,"v":1.9},{"r":39,"T":1,"v":1.4},{"r":39,"T":1.26,"v":0.95},{"r":39,"T":1.58,"v":0.65},{"r":39,"T":2,"v":0.42},{"r":39,"T":2.51,"v":0.28},{"r":39,"T":3.16,"v":0.18},{"r":39,"T":3.98,"v":0.11},{"r":39,"T":5.01,"v":0.055},{"r":39,"T":6.31,"v":0.025},{"r":39,"T":7.94,"v":0.011},{"r":39,"T":10,"v":0.005},
{"r":40,"T":0.1,"v":0.2},{"r":40,"T":0.126,"v":0.24},{"r":40,"T":0.158,"v":0.28},{"r":40,"T":0.2,"v":0.26},{"r":40,"T":0.251,"v":0.33},{"r":40,"T":0.316,"v":0.4},{"r":40,"T":0.398,"v":0.36},{"r":40,"T":0.501,"v":0.42},{"r":40,"T":0.631,"v":0.5},{"r":40,"T":0.794,"v":0.45},{"r":40,"T":1,"v":0.38},{"r":40,"T":1.26,"v":0.3},{"r":40,"T":1.58,"v":0.25},{"r":40,"T":2,"v":0.2},{"r":40,"T":2.51,"v":0.17},{"r":40,"T":3.16,"v":0.15},{"r":40,"T":3.98,"v":0.14},{"r":40,"T":5.01,"v":0.15},{"r":40,"T":6.31,"v":0.16},{"r":40,"T":7.94,"v":0.14},{"r":40,"T":10,"v":0.11}
],
"rp":[
{"rp":"10000","T":0.1,"v":0.473},{"rp":"10000","T":0.2,"v":0.697},{"rp":"10000","T":0.3,"v":0.813},{"rp":"10000","T":0.5,"v":0.865},{"rp":"10000","T":0.75,"v":0.786},{"rp":"10000","T":1,"v":0.766},{"rp":"10000","T":3.6,"v":0.59},{"rp":"10000","T":5,"v":0.40},{"rp":"10000","T":7.5,"v":0.218},{"rp":"10000","T":10,"v":0.122},
{"rp":"7462","T":0.1,"v":0.463},{"rp":"7462","T":0.2,"v":0.683},{"rp":"7462","T":0.3,"v":0.797},{"rp":"7462","T":0.5,"v":0.845},{"rp":"7462","T":0.75,"v":0.766},{"rp":"7462","T":1,"v":0.746},{"rp":"7462","T":3.6,"v":0.545},{"rp":"7462","T":5,"v":0.375},{"rp":"7462","T":7.5,"v":0.201},{"rp":"7462","T":10,"v":0.117},
{"rp":"3899","T":0.1,"v":0.454},{"rp":"3899","T":0.2,"v":0.668},{"rp":"3899","T":0.3,"v":0.777},{"rp":"3899","T":0.5,"v":0.815},{"rp":"3899","T":0.75,"v":0.708},{"rp":"3899","T":1,"v":0.672},{"rp":"3899","T":3.6,"v":0.454},{"rp":"3899","T":5,"v":0.32},{"rp":"3899","T":7.5,"v":0.177},{"rp":"3899","T":10,"v":0.0993},
{"rp":"2475","T":0.1,"v":0.445},{"rp":"2475","T":0.2,"v":0.655},{"rp":"2475","T":0.3,"v":0.746},{"rp":"2475","T":0.5,"v":0.785},{"rp":"2475","T":0.75,"v":0.655},{"rp":"2475","T":1,"v":0.638},{"rp":"2475","T":3.6,"v":0.398},{"rp":"2475","T":5,"v":0.27},{"rp":"2475","T":7.5,"v":0.15},{"rp":"2475","T":10,"v":0.0894},
{"rp":"1485","T":0.1,"v":0.431},{"rp":"1485","T":0.2,"v":0.628},{"rp":"1485","T":0.3,"v":0.708},{"rp":"1485","T":0.5,"v":0.74},{"rp":"1485","T":0.75,"v":0.605},{"rp":"1485","T":1,"v":0.559},{"rp":"1485","T":3.6,"v":0.314},{"rp":"1485","T":5,"v":0.22},{"rp":"1485","T":7.5,"v":0.122},{"rp":"1485","T":10,"v":0.0764},
{"rp":"949","T":0.1,"v":0.408},{"rp":"949","T":0.2,"v":0.59},{"rp":"949","T":0.3,"v":0.638},{"rp":"949","T":0.5,"v":0.621},{"rp":"949","T":0.75,"v":0.504},{"rp":"949","T":1,"v":0.454},{"rp":"949","T":3.6,"v":0.248},{"rp":"949","T":5,"v":0.17},{"rp":"949","T":7.5,"v":0.1},{"rp":"949","T":10,"v":0.0621},
{"rp":"475","T":0.1,"v":0.384},{"rp":"475","T":0.2,"v":0.517},{"rp":"475","T":0.3,"v":0.559},{"rp":"475","T":0.5,"v":0.517},{"rp":"475","T":0.75,"v":0.408},{"rp":"475","T":1,"v":0.368},{"rp":"475","T":3.6,"v":0.163},{"rp":"475","T":5,"v":0.118},{"rp":"475","T":7.5,"v":0.0764},{"rp":"475","T":10,"v":0.0442},
{"rp":"289","T":0.1,"v":0.34},{"rp":"289","T":0.2,"v":0.454},{"rp":"289","T":0.3,"v":0.478},{"rp":"289","T":0.5,"v":0.419},{"rp":"289","T":0.75,"v":0.331},{"rp":"289","T":1,"v":0.291},{"rp":"289","T":3.6,"v":0.102},{"rp":"289","T":5,"v":0.075},{"rp":"289","T":7.5,"v":0.0503},{"rp":"289","T":10,"v":0.0314},
{"rp":"144","T":0.1,"v":0.269},{"rp":"144","T":0.2,"v":0.368},{"rp":"144","T":0.3,"v":0.384},{"rp":"144","T":0.5,"v":0.323},{"rp":"144","T":0.75,"v":0.242},{"rp":"144","T":1,"v":0.196},{"rp":"144","T":3.6,"v":0.062},{"rp":"144","T":5,"v":0.047},{"rp":"144","T":7.5,"v":0.0306},{"rp":"144","T":10,"v":0.0196},
{"rp":"43","T":0.1,"v":0.147},{"rp":"43","T":0.2,"v":0.21},{"rp":"43","T":0.3,"v":0.216},{"rp":"43","T":0.5,"v":0.172},{"rp":"43","T":0.75,"v":0.119},{"rp":"43","T":1,"v":0.094},{"rp":"43","T":3.6,"v":0.0207},{"rp":"43","T":5,"v":0.0155},{"rp":"43","T":7.5,"v":0.011},{"rp":"43","T":10,"v":0.0065}
],
"dash":[{"T":0.187,"v":0.0918},{"T":0.418,"v":1.85}]
},
"hconcat":[
{"width":460,"height":394,
"resolve":{"axis":{"x":"independent","y":"independent"}},
"layer":[
{"data":{"name":"cms"},"mark":{"type":"point","opacity":0},
"encoding":{
"x":{"field":"T","type":"quantitative","scale":{"type":"log","domain":[0.1,10],"nice":false},"axis":{"orient":"bottom","values":[0.1,1,10],"labelExpr":"datum.value==0.1?'10⁻¹':datum.value==1?'10⁰':'10¹'","tickSize":-9,"labelPadding":19,"title":"Period (second)","titlePadding":10}},
"y":{"field":"cms","type":"quantitative","scale":{"type":"log","domain":[0.01,5],"nice":false},"axis":{"orient":"left","values":[0.01,0.1,1,5],"labelExpr":"datum.value==0.01?'10⁻²':datum.value==0.1?'10⁻¹':datum.value==1?'10⁰':'5'","tickSize":-9,"labelPadding":13,"title":"Spectral acceleration (g)","titlePadding":4}}}},
{"data":{"name":"cms"},"mark":{"type":"point","opacity":0},
"encoding":{
"x":{"field":"T","type":"quantitative","scale":{"type":"log","domain":[0.1,10],"nice":false},"axis":{"orient":"bottom","values":[0.2,0.3,0.4,0.5,0.6,0.7,0.8,0.9,2,3,4,5,6,7,8,9],"labels":false,"tickSize":-4.5,"title":null}},
"y":{"field":"cms","type":"quantitative","scale":{"type":"log","domain":[0.01,5],"nice":false},"axis":{"orient":"left","values":[0.02,0.03,0.04,0.05,0.06,0.07,0.08,0.09,0.2,0.3,0.4,0.5,0.6,0.7,0.8,0.9,2,3,4],"labels":false,"tickSize":-4.5,"title":null}}}},
{"data":{"name":"cms"},"mark":{"type":"point","opacity":0},
"encoding":{
"x":{"field":"T","type":"quantitative","scale":{"type":"log","domain":[0.1,10],"nice":false},"axis":{"orient":"top","values":[0.1,1,10],"labels":false,"tickSize":-9,"title":null}},
"y":{"field":"cms","type":"quantitative","scale":{"type":"log","domain":[0.01,5],"nice":false},"axis":{"orient":"right","values":[0.01,0.1,1],"labels":false,"tickSize":-9,"title":null}}}},
{"data":{"name":"cms"},"mark":{"type":"point","opacity":0},
"encoding":{
"x":{"field":"T","type":"quantitative","scale":{"type":"log","domain":[0.1,10],"nice":false},"axis":{"orient":"top","values":[0.2,0.3,0.4,0.5,0.6,0.7,0.8,0.9,2,3,4,5,6,7,8,9],"labels":false,"tickSize":-4.5,"title":null}},
"y":{"field":"cms","type":"quantitative","scale":{"type":"log","domain":[0.01,5],"nice":false},"axis":{"orient":"right","values":[0.02,0.03,0.04,0.05,0.06,0.07,0.08,0.09,0.2,0.3,0.4,0.5,0.6,0.7,0.8,0.9,2,3,4],"labels":false,"tickSize":-4.5,"title":null}}}},
{"data":{"name":"rec"},"mark":{"type":"line","color":"black","strokeWidth":1.8,"clip":true},
"encoding":{
"x":{"field":"T","type":"quantitative","scale":{"type":"log","domain":[0.1,10],"nice":false},"axis":null},
"y":{"field":"v","type":"quantitative","scale":{"type":"log","domain":[0.01,5],"nice":false},"axis":null},
"detail":{"field":"r","type":"nominal"}}},
{"data":{"name":"cms"},"mark":{"type":"point","shape":"square","filled":false,"color":"#22b33a","size":170,"strokeWidth":1.3,"clip":true},
"encoding":{
"x":{"field":"T","type":"quantitative","scale":{"type":"log","domain":[0.1,10],"nice":false},"axis":null},
"y":{"field":"mup","type":"quantitative","scale":{"type":"log","domain":[0.01,5],"nice":false},"axis":null}}},
{"data":{"name":"cms"},"mark":{"type":"point","shape":"square","filled":false,"color":"#22b33a","size":170,"strokeWidth":1.3,"clip":true},
"encoding":{
"x":{"field":"T","type":"quantitative","scale":{"type":"log","domain":[0.1,10],"nice":false},"axis":null},
"y":{"field":"mlo","type":"quantitative","scale":{"type":"log","domain":[0.01,5],"nice":false},"axis":null}}},
{"data":{"name":"cms"},"mark":{"type":"point","shape":"circle","filled":false,"color":"#22b33a","size":180,"strokeWidth":1.8,"clip":true},
"encoding":{
"x":{"field":"T","type":"quantitative","scale":{"type":"log","domain":[0.1,10],"nice":false},"axis":null},
"y":{"field":"mean","type":"quantitative","scale":{"type":"log","domain":[0.01,5],"nice":false},"axis":null}}},
{"data":{"name":"cms"},"mark":{"type":"line","color":"#ff0000","strokeWidth":4,"clip":true},
"encoding":{
"x":{"field":"T","type":"quantitative","scale":{"type":"log","domain":[0.1,10],"nice":false},"axis":null},
"y":{"field":"cms","type":"quantitative","scale":{"type":"log","domain":[0.01,5],"nice":false},"axis":null}}},
{"data":{"name":"cms"},"mark":{"type":"line","color":"#ff0000","strokeWidth":4,"strokeDash":[10,7],"clip":true},
"encoding":{
"x":{"field":"T","type":"quantitative","scale":{"type":"log","domain":[0.1,10],"nice":false},"axis":null},
"y":{"field":"up","type":"quantitative","scale":{"type":"log","domain":[0.01,5],"nice":false},"axis":null}}},
{"data":{"name":"cms"},"mark":{"type":"line","color":"#ff0000","strokeWidth":4,"strokeDash":[10,7],"clip":true},
"encoding":{
"x":{"field":"T","type":"quantitative","scale":{"type":"log","domain":[0.1,10],"nice":false},"axis":null},
"y":{"field":"lo","type":"quantitative","scale":{"type":"log","domain":[0.01,5],"nice":false},"axis":null}}},
{"data":{"values":[{}]},"mark":{"type":"text","text":"Return period: 475 yrs.","fontWeight":"bold","fontSize":21,"align":"left","baseline":"middle","font":"Liberation Serif"},
"encoding":{"x":{"datum":1.1,"type":"quantitative","scale":{"type":"log","domain":[0.1,10],"nice":false},"axis":null},"y":{"datum":3.65,"type":"quantitative","scale":{"type":"log","domain":[0.01,5],"nice":false},"axis":null}}},
{"data":{"values":[{}]},"mark":{"type":"text","text":["Individual","record","spectrum"],"lineHeight":24,"fontSize":21,"align":"left","baseline":"middle","font":"Liberation Serif"},
"encoding":{"x":{"datum":3.2,"type":"quantitative","scale":{"type":"log","domain":[0.1,10],"nice":false},"axis":null},"y":{"datum":1.23,"type":"quantitative","scale":{"type":"log","domain":[0.01,5],"nice":false},"axis":null}}},
{"data":{"values":[{}]},"mark":{"type":"rule","color":"black","strokeWidth":1.5},
"encoding":{"x":{"datum":3.07,"type":"quantitative","scale":{"type":"log","domain":[0.1,10],"nice":false},"axis":null},"y":{"datum":1.51,"type":"quantitative","scale":{"type":"log","domain":[0.01,5],"nice":false},"axis":null},"x2":{"datum":1.326},"y2":{"datum":2.66}}},
{"data":{"values":[{}]},"mark":{"type":"point","shape":"M-0.92,-0.4L0.79,-0.31L0.31,0.79Z","filled":true,"color":"black","opacity":1,"size":400,"strokeWidth":0},
"encoding":{"x":{"datum":1.326,"type":"quantitative","scale":{"type":"log","domain":[0.1,10],"nice":false},"axis":null},"y":{"datum":2.66,"type":"quantitative","scale":{"type":"log","domain":[0.01,5],"nice":false},"axis":null}}},
{"data":{"values":[{}]},"mark":{"type":"rule","color":"#ff0000","strokeWidth":4},
"encoding":{"x":{"datum":0.107,"type":"quantitative","scale":{"type":"log","domain":[0.1,10],"nice":false},"axis":null},"y":{"datum":0.0258,"type":"quantitative","scale":{"type":"log","domain":[0.01,5],"nice":false},"axis":null},"x2":{"datum":0.149}}},
{"data":{"values":[{}]},"mark":{"type":"rule","color":"#ff0000","strokeWidth":4,"strokeDash":[10,7]},
"encoding":{"x":{"datum":0.561,"type":"quantitative","scale":{"type":"log","domain":[0.1,10],"nice":false},"axis":null},"y":{"datum":0.0258,"type":"quantitative","scale":{"type":"log","domain":[0.01,5],"nice":false},"axis":null},"x2":{"datum":0.705}}},
{"data":{"values":[{}]},"mark":{"type":"text","text":"Target CMS","fontSize":21,"align":"left","baseline":"middle","font":"Liberation Serif"},
"encoding":{"x":{"datum":0.162,"type":"quantitative","scale":{"type":"log","domain":[0.1,10],"nice":false},"axis":null},"y":{"datum":0.0258,"type":"quantitative","scale":{"type":"log","domain":[0.01,5],"nice":false},"axis":null}}},
{"data":{"values":[{}]},"mark":{"type":"text","text":"Target CMS +/− 2σ","fontSize":21,"align":"left","baseline":"middle","font":"Liberation Serif"},
"encoding":{"x":{"datum":0.84,"type":"quantitative","scale":{"type":"log","domain":[0.1,10],"nice":false},"axis":null},"y":{"datum":0.0258,"type":"quantitative","scale":{"type":"log","domain":[0.01,5],"nice":false},"axis":null}}},
{"data":{"values":[{}]},"mark":{"type":"point","shape":"circle","filled":false,"color":"#22b33a","size":400,"strokeWidth":3,"opacity":1},
"encoding":{"x":{"datum":0.119,"type":"quantitative","scale":{"type":"log","domain":[0.1,10],"nice":false},"axis":null},"y":{"datum":0.01485,"type":"quantitative","scale":{"type":"log","domain":[0.01,5],"nice":false},"axis":null}}},
{"data":{"values":[{}]},"mark":{"type":"point","shape":"square","filled":false,"color":"#22b33a","size":324,"strokeWidth":2.5,"opacity":1},
"encoding":{"x":{"datum":0.801,"type":"quantitative","scale":{"type":"log","domain":[0.1,10],"nice":false},"axis":null},"y":{"datum":0.01485,"type":"quantitative","scale":{"type":"log","domain":[0.01,5],"nice":false},"axis":null}}},
{"data":{"values":[{}]},"mark":{"type":"text","text":"Mean of 40 spectra","fontSize":21,"align":"left","baseline":"middle","font":"Liberation Serif"},
"encoding":{"x":{"datum":0.136,"type":"quantitative","scale":{"type":"log","domain":[0.1,10],"nice":false},"axis":null},"y":{"datum":0.01485,"type":"quantitative","scale":{"type":"log","domain":[0.01,5],"nice":false},"axis":null}}},
{"data":{"values":[{}]},"mark":{"type":"text","text":"Mean spectrum +/− 2σ","fontSize":21,"align":"left","baseline":"middle","font":"Liberation Serif"},
"encoding":{"x":{"datum":0.93,"type":"quantitative","scale":{"type":"log","domain":[0.1,10],"nice":false},"axis":null},"y":{"datum":0.01485,"type":"quantitative","scale":{"type":"log","domain":[0.01,5],"nice":false},"axis":null}}}
]},
{"width":457,"height":394,
"resolve":{"axis":{"x":"independent","y":"independent"}},
"layer":[
{"data":{"name":"dash"},"mark":{"type":"point","opacity":0},
"encoding":{
"x":{"field":"T","type":"quantitative","scale":{"type":"log","domain":[0.1,10],"nice":false},"axis":{"orient":"bottom","values":[0.1,1,10],"labelExpr":"datum.value==0.1?'10⁻¹':datum.value==1?'10⁰':'10¹'","tickSize":-9,"labelPadding":19,"title":"Period (second)","titlePadding":10}},
"y":{"field":"v","type":"quantitative","scale":{"type":"log","domain":[0.01,5],"nice":false},"axis":{"orient":"left","values":[0.01,0.1,1,5],"labelExpr":"datum.value==0.01?'10⁻²':datum.value==0.1?'10⁻¹':datum.value==1?'10⁰':'5'","tickSize":-9,"labelPadding":13,"title":"Spectral acceleration (g)","titlePadding":4}}}},
{"data":{"name":"dash"},"mark":{"type":"point","opacity":0},
"encoding":{
"x":{"field":"T","type":"quantitative","scale":{"type":"log","domain":[0.1,10],"nice":false},"axis":{"orient":"bottom","values":[0.2,0.3,0.4,0.5,0.6,0.7,0.8,0.9,2,3,4,5,6,7,8,9],"labels":false,"tickSize":-4.5,"title":null}},
"y":{"field":"v","type":"quantitative","scale":{"type":"log","domain":[0.01,5],"nice":false},"axis":{"orient":"left","values":[0.02,0.03,0.04,0.05,0.06,0.07,0.08,0.09,0.2,0.3,0.4,0.5,0.6,0.7,0.8,0.9,2,3,4],"labels":false,"tickSize":-4.5,"title":null}}}},
{"data":{"name":"dash"},"mark":{"type":"point","opacity":0},
"encoding":{
"x":{"field":"T","type":"quantitative","scale":{"type":"log","domain":[0.1,10],"nice":false},"axis":{"orient":"top","values":[0.1,1,10],"labels":false,"tickSize":-9,"title":null}},
"y":{"field":"v","type":"quantitative","scale":{"type":"log","domain":[0.01,5],"nice":false},"axis":{"orient":"right","values":[0.01,0.1,1],"labels":false,"tickSize":-9,"title":null}}}},
{"data":{"name":"dash"},"mark":{"type":"point","opacity":0},
"encoding":{
"x":{"field":"T","type":"quantitative","scale":{"type":"log","domain":[0.1,10],"nice":false},"axis":{"orient":"top","values":[0.2,0.3,0.4,0.5,0.6,0.7,0.8,0.9,2,3,4,5,6,7,8,9],"labels":false,"tickSize":-4.5,"title":null}},
"y":{"field":"v","type":"quantitative","scale":{"type":"log","domain":[0.01,5],"nice":false},"axis":{"orient":"right","values":[0.02,0.03,0.04,0.05,0.06,0.07,0.08,0.09,0.2,0.3,0.4,0.5,0.6,0.7,0.8,0.9,2,3,4],"labels":false,"tickSize":-4.5,"title":null}}}},
{"data":{"name":"rp"},"mark":{"type":"line","color":"black","strokeWidth":2.2,"clip":true},
"encoding":{
"x":{"field":"T","type":"quantitative","scale":{"type":"log","domain":[0.1,10],"nice":false},"axis":null},
"y":{"field":"v","type":"quantitative","scale":{"type":"log","domain":[0.01,5],"nice":false},"axis":null},
"detail":{"field":"rp","type":"nominal"}}},
{"data":{"name":"dash"},"mark":{"type":"line","color":"black","strokeWidth":2,"strokeDash":[9,6],"clip":true},
"encoding":{
"x":{"field":"T","type":"quantitative","scale":{"type":"log","domain":[0.1,10],"nice":false},"axis":null},
"y":{"field":"v","type":"quantitative","scale":{"type":"log","domain":[0.01,5],"nice":false},"axis":null}}},
{"data":{"values":[{}]},"mark":{"type":"text","text":["From top to bottom CMS:","Return periods corresponding to:","10000, 7462, 3899, 2475, 1485,","949, 475, 289, 144, 43 years."],"lineHeight":24,"fontSize":21,"align":"left","baseline":"middle","font":"Liberation Serif"},
"encoding":{"x":{"datum":0.566,"type":"quantitative","scale":{"type":"log","domain":[0.1,10],"nice":false},"axis":null},"y":{"datum":3.48,"type":"quantitative","scale":{"type":"log","domain":[0.01,5],"nice":false},"axis":null}}}
]}
]
}
